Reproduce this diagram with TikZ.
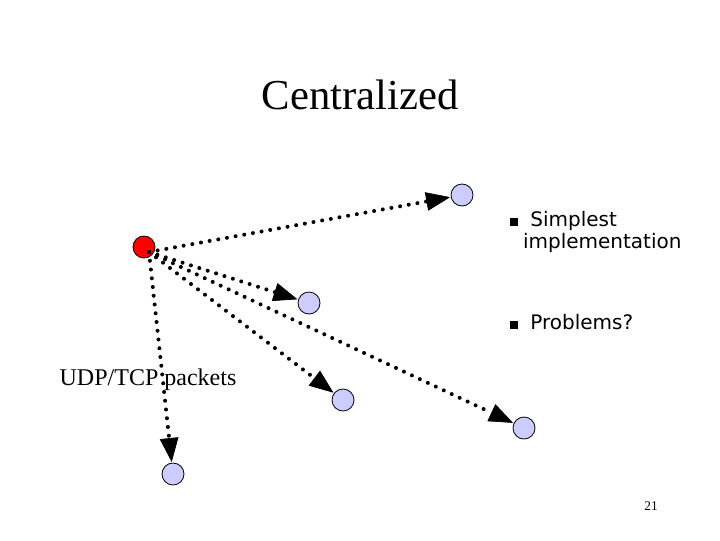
\documentclass[tikz,border=0pt]{standalone}
\usepackage{fontspec}
\setmainfont{Liberation Serif}
\newfontfamily\verd{DejaVu Sans}
\usetikzlibrary{arrows.meta}
\begin{document}
\begin{tikzpicture}[x=0.75pt,y=0.75pt,yscale=-1,xscale=1,
  host/.style={circle,draw=black,line width=0.6pt,fill={rgb,255:red,204;green,204;blue,255},minimum size=16.5pt,inner sep=0pt},
  msg/.style={line width=3pt,line cap=round,dash pattern=on 0pt off 6.6pt,
    -{Triangle[length=18pt,width=14pt,line cap=butt,line width=0.5pt]},shorten >=0.5pt},
  bul/.style={anchor=west,font=\verd\fontsize{15}{18}\selectfont,align=left}]
\useasboundingbox (0,0) rectangle (720,540);

% Title
\node (title) at (360,95) {\fontsize{32}{38}\selectfont Centralized};

% Hosts
\node[host,fill=red] (srv) at (144,247) {};
\node[host] (h1) at (462,195) {};
\node[host] (h2) at (309,303) {};
\node[host] (h3) at (343,400) {};
\node[host] (h4) at (524,428) {};
\node[host] (h5) at (173,474) {};
\coordinate (src) at (149,252);

% Messages
\draw[msg] (src) -- (h1);
\draw[msg] (src) -- (h2);
\draw[msg] (src) -- (h3);
\draw[msg] (src) -- (h4);
\draw[msg] (src) -- (h5);

% Text
\node[bul] (b1) at (505,232) {\rule{6pt}{6pt}\ \ Simplest\\[-1pt]\hspace*{10pt}implementation};
\node[bul] (b2) at (505,322) {\rule{6pt}{6pt}\ \ Problems?};
\node (udp) at (148,380) {\fontsize{18}{22}\selectfont UDP/TCP packets};
\node (num) at (651,506) {\fontsize{10}{12}\selectfont 21};
\end{tikzpicture}
\end{document}
